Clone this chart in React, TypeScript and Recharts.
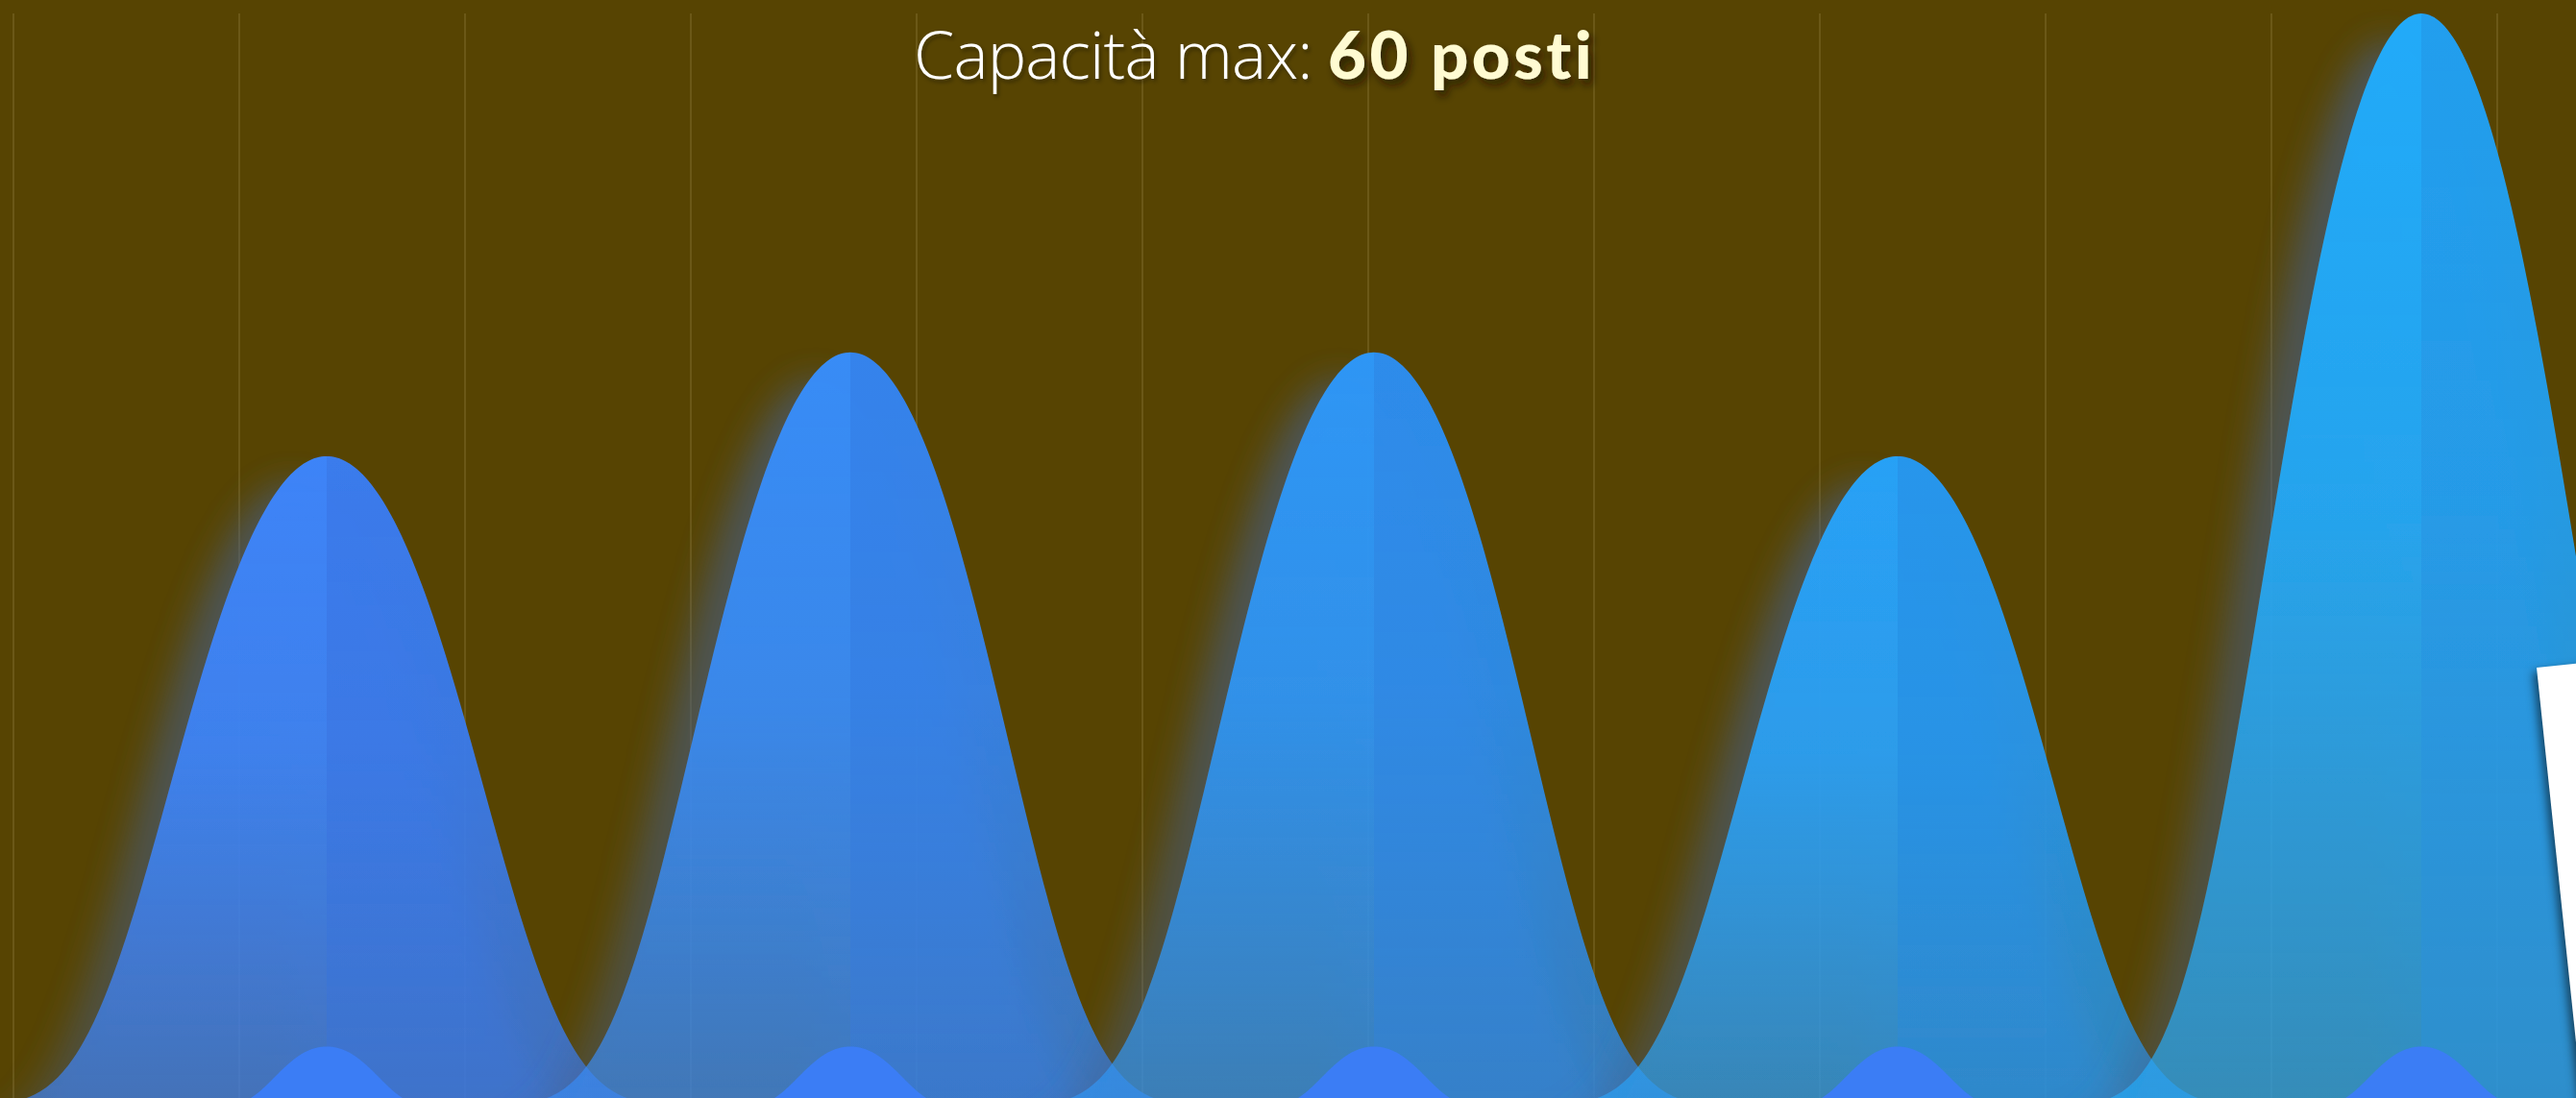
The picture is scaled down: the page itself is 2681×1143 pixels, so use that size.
import React from 'react';
import { ComposedChart, Bar, XAxis, YAxis, CartesianGrid } from 'recharts';

// ---- data ----
const days = ['Lunedì', 'Martedì', 'Mercoledì', 'Giovedì', 'Venerdì'];
const capacity = [35.7, 41.4, 41.4, 35.7, 60];
const booked = [3.3, 3.3, 3.3, 3.3, 3.3];
const gridTicks = [0, 1, 2, 3, 4, 5, 6, 7, 8, 9, 10, 11, 12];
const GRID_MAX = 12;

// ---- styles ----
const bellTopLeft = ['#3d84f8', '#388cf6', '#2f96f5', '#28a1f6', '#22aaf9'];
const bellTopRight = ['#3a7bec', '#3583ec', '#2d8ceb', '#2696ec', '#239eee'];
const BUMP_COLOR = '#3b7df5';
const BG = '#574402';

const data = days.map((d, i) => ({ day: d, capacity: capacity[i], booked: booked[i] }));

// bell profile: g(v) = exp(-(0.2 v^2 + 0.025 v^4)), v = dx / s
function profile(v: number) {
  const v2 = v * v;
  return Math.exp(-(0.2 * v2 + 0.025 * v2 * v2));
}

function halfBell(cx: number, base: number, h: number, s: number, side: number) {
  const ext = s * 4.3;
  const N = 160;
  let d = '';
  if (side < 0) {
    d = `M${cx},${base} L${(cx - ext).toFixed(2)},${base}`;
    for (let i = 0; i <= N; i++) {
      const dx = -ext + (ext * i) / N;
      const g = profile(dx / s);
      d += ` L${(cx + dx).toFixed(2)},${(base - h * g).toFixed(2)}`;
    }
    d += ' Z';
  } else {
    d = `M${cx},${base}`;
    for (let i = 0; i <= N; i++) {
      const dx = (ext * i) / N;
      const g = profile(dx / s);
      d += ` L${(cx + dx).toFixed(2)},${(base - h * g).toFixed(2)}`;
    }
    d += ` L${(cx + ext).toFixed(2)},${base} Z`;
  }
  return d;
}

const BellShape = (props: any) => {
  const { x, y, width, height, index } = props;
  if (!height || height <= 0) return null;
  const cx = x + width / 2;
  const base = y + height;
  const s = width * 0.1835;
  return (
    <g filter="url(#bellGlow)">
      <path d={halfBell(cx, base, height, s, -1)} fill={`url(#bellL${index})`} />
      <path d={halfBell(cx, base, height, s, 1)} fill={`url(#bellR${index})`} />
    </g>
  );
};

const BumpShape = (props: any) => {
  const { x, y, width, height } = props;
  if (!height || height <= 0) return null;
  const cx = x + width / 2;
  const base = y + height;
  const s = width * 0.0609;
  return (
    <g>
      <path d={halfBell(cx, base, height, s, -1)} fill={BUMP_COLOR} />
      <path d={halfBell(cx, base, height, s, 1)} fill={BUMP_COLOR} />
    </g>
  );
};

const gridXs = (args: any) => {
  const xAxis = args && args.xAxis;
  if (xAxis && typeof xAxis.scale === 'function') {
    const vals = gridTicks.map((t) => xAxis.scale(t));
    if (vals.every((v) => Number.isFinite(v))) return vals;
  }
  const off = (args && args.offset) || {};
  const left = off.left ?? 14;
  const w = off.width ?? 2820;
  return gridTicks.map((t) => left + (t / GRID_MAX) * w);
};

export default function App() {
  return (
    <div
      style={{
        position: 'absolute',
        left: 0,
        top: 0,
        width: 2681,
        height: 1143,
        overflow: 'hidden',
        background: BG,
      }}
    >
      <ComposedChart
        width={2834}
        height={1200}
        data={data}
        margin={{ top: 14, right: 0, bottom: 48, left: 14 }}
        barCategoryGap={0}
        barGap={0}
      >
        <defs>
          {bellTopLeft.map((c, i) => (
            <linearGradient key={`l${i}`} id={`bellL${i}`} x1="0" y1="0" x2="0" y2="1">
              <stop offset="0%" stopColor={c} stopOpacity={1} />
              <stop offset="45%" stopColor={c} stopOpacity={0.92} />
              <stop offset="100%" stopColor={c} stopOpacity={0.64} />
            </linearGradient>
          ))}
          {bellTopRight.map((c, i) => (
            <linearGradient key={`r${i}`} id={`bellR${i}`} x1="0" y1="0" x2="0" y2="1">
              <stop offset="0%" stopColor={c} stopOpacity={1} />
              <stop offset="45%" stopColor={c} stopOpacity={0.95} />
              <stop offset="100%" stopColor={c} stopOpacity={0.78} />
            </linearGradient>
          ))}
          <filter id="bellGlow" x="-30%" y="-10%" width="160%" height="130%">
            <feGaussianBlur in="SourceAlpha" stdDeviation="17" result="blur" />
            <feOffset in="blur" dx="-36" dy="28" result="off" />
            <feFlood floodColor="#45608f" floodOpacity="0.6" />
            <feComposite in2="off" operator="in" result="glow" />
            <feMerge>
              <feMergeNode in="glow" />
              <feMergeNode in="SourceGraphic" />
            </feMerge>
          </filter>
        </defs>
        <CartesianGrid
          xAxisId="grid"
          horizontal={false}
          vertical={true}
          verticalCoordinatesGenerator={gridXs}
          stroke="rgba(200,180,120,0.25)"
          strokeWidth={1.5}
        />
        <XAxis
          xAxisId="grid"
          type="number"
          domain={[0, GRID_MAX]}
          ticks={gridTicks}
          interval={0}
          hide
        />
        <XAxis xAxisId="bell" dataKey="day" hide padding={{ left: 53.5, right: 41.5 }} />
        <XAxis xAxisId="bump" dataKey="day" hide padding={{ left: 53.5, right: 41.5 }} />
        <YAxis hide domain={[0, 60]} />
        <Bar xAxisId="bell" dataKey="capacity" shape={<BellShape />} isAnimationActive={false} />
        <Bar xAxisId="bump" dataKey="booked" shape={<BumpShape />} isAnimationActive={false} />
      </ComposedChart>

      <div
        style={{
          position: 'absolute',
          left: 2640,
          top: 695,
          width: 420,
          height: 700,
          background: '#ffffff',
          transform: 'rotate(-6deg)',
          transformOrigin: '0 0',
          boxShadow: '-4px 4px 10px rgba(0,0,0,0.55)',
        }}
      />

      <svg
        width={2681}
        height={1143}
        style={{ position: 'absolute', left: 0, top: 0, pointerEvents: 'none' }}
      >
        <defs>
          <filter id="tshadow" x="-10%" y="-30%" width="130%" height="170%">
            <feDropShadow dx="4" dy="6" stdDeviation="4" floodColor="#1e1600" floodOpacity="0.7" />
          </filter>
          <filter id="tshadow2" x="-10%" y="-30%" width="130%" height="170%">
            <feDropShadow dx="2" dy="3" stdDeviation="2" floodColor="#1e1600" floodOpacity="0.4" />
          </filter>
        </defs>
        <text
          x={951}
          y={82}
          fontFamily="'Open Sans'"
          fontWeight={300}
          fontSize={68}
          letterSpacing={-0.8}
          fill="#ffffff"
          filter="url(#tshadow2)"
        >
          Capacità max:
        </text>
        <text
          x={1382}
          y={82}
          fontFamily="Lato"
          fontWeight={900}
          fontSize={69}
          letterSpacing={3.5}
          fill="#fffbd2"
          filter="url(#tshadow)"
          style={{ fontVariantLigatures: 'none' }}
        >
          60 posti
        </text>
      </svg>
    </div>
  );
}
